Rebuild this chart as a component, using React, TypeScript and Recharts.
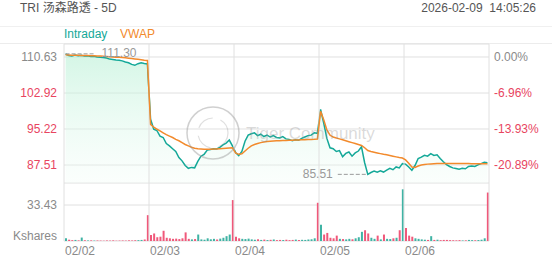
import React from "react";
import {
  ComposedChart,
  Area,
  Line,
  Bar,
  Cell,
  XAxis,
  YAxis,
  CartesianGrid,
  ReferenceLine,
  ReferenceDot,
} from "recharts";

// 5 sessions, 27 samples each (15 min steps, open -> close)
const days = ["02/02", "02/03", "02/04", "02/05", "02/06"];
const prevClose = 110.63;
const priceTicks = [110.63, 102.92, 95.22, 87.51];
const pctLabels = ["0.00%", "-6.96%", "-13.93%", "-20.89%"];
const volumeTick = 33.43;

const price0202 = [111.3, 110.95, 110.85, 111.05, 110.9, 111.0, 110.82, 110.9, 110.75, 110.8, 110.62, 110.55, 110.5, 110.4, 110.18, 110.1, 110.0, 109.92, 109.8, 109.55, 109.4, 109.05, 108.85, 109.2, 109.4, 109.25, 109.15];
const price0203 = [97.3, 95.2, 94.9, 93.7, 93.4, 92.1, 91.6, 91.0, 90.4, 89.1, 88.4, 87.4, 86.8, 87.0, 86.9, 88.3, 89.4, 89.8, 90.7, 90.85, 91.0, 90.95, 91.3, 91.8, 92.2, 92.85, 91.6];
const price0204 = [90.2, 89.5, 90.4, 92.6, 93.9, 94.2, 94.4, 93.8, 94.1, 93.6, 93.9, 93.5, 93.8, 93.4, 93.3, 93.6, 93.1, 93.0, 92.7, 92.9, 92.8, 93.2, 93.5, 93.8, 93.9, 94.4, 94.3];
const price0205 = [99.4, 96.5, 93.2, 91.2, 91.0, 90.4, 90.6, 89.3, 90.0, 90.3, 89.4, 90.1, 90.5, 91.4, 88.0, 85.51, 85.9, 86.2, 85.95, 86.25, 86.0, 86.4, 86.8, 86.5, 87.1, 86.9, 87.8];
const price0206 = [87.7, 87.1, 86.4, 87.4, 88.9, 89.2, 89.6, 89.4, 89.95, 89.55, 89.7, 88.9, 88.2, 87.6, 87.2, 86.9, 86.75, 86.6, 86.8, 86.7, 87.2, 87.3, 87.2, 87.55, 87.8, 88.1, 88.0];

const vwap0202 = [111.1, 111.05, 111.0, 111.0, 110.98, 110.97, 110.95, 110.93, 110.9, 110.88, 110.85, 110.82, 110.78, 110.74, 110.7, 110.65, 110.6, 110.55, 110.5, 110.45, 110.38, 110.3, 110.22, 110.15, 110.05, 109.95, 109.88];
const vwap0203 = [96.2, 95.6, 95.2, 94.8, 94.4, 94.0, 93.7, 93.4, 93.0, 92.7, 92.3, 91.9, 91.6, 91.3, 91.1, 91.0, 90.95, 90.9, 90.9, 90.9, 90.95, 90.95, 91.0, 91.05, 91.1, 91.15, 91.2];
const vwap0204 = [90.1, 89.8, 89.9, 90.5, 91.1, 91.6, 91.9, 92.1, 92.3, 92.45, 92.55, 92.6, 92.65, 92.7, 92.72, 92.75, 92.78, 92.8, 92.82, 92.85, 92.87, 92.9, 92.92, 92.95, 92.98, 93.0, 93.05];
const vwap0205 = [99.0, 97.2, 95.0, 93.9, 93.5, 93.3, 93.1, 92.9, 92.7, 92.5, 92.3, 92.1, 91.9, 91.7, 91.2, 90.6, 90.4, 90.25, 90.1, 89.95, 89.8, 89.7, 89.55, 89.4, 89.25, 89.1, 89.0];
const vwap0206 = [88.6, 87.9, 87.1, 87.0, 87.3, 87.5, 87.6, 87.7, 87.75, 87.8, 87.85, 87.85, 87.85, 87.85, 87.85, 87.85, 87.84, 87.83, 87.82, 87.82, 87.81, 87.8, 87.8, 87.8, 87.79, 87.79, 87.8];

// Kshares
const vol0202 = [2.5, 1.2, 0.8, 1.0, 0.6, 3.2, 0.7, 0.5, 0.6, 0.4, 0.5, 0.4, 0.3, 0.5, 0.4, 0.6, 0.3, 0.4, 0.5, 0.4, 0.6, 0.5, 0.7, 0.8, 1.0, 1.4, 24.0];
const vol0203 = [5.5, 7.0, 3.5, 4.0, 9.5, 3.0, 2.5, 2.0, 2.2, 1.8, 2.5, 8.0, 2.0, 1.5, 1.8, 6.0, 1.5, 1.2, 2.5, 1.6, 2.0, 1.4, 2.2, 3.0, 4.5, 6.0, 38.0];
const vol0204 = [4.0, 2.5, 2.0, 1.8, 2.2, 1.5, 1.2, 1.6, 1.0, 1.3, 0.9, 1.1, 1.4, 0.8, 1.0, 0.9, 1.2, 0.8, 1.0, 1.3, 0.9, 1.1, 1.0, 1.4, 1.6, 2.5, 35.5];
const vol0205 = [15.0, 6.0, 7.5, 3.0, 2.5, 5.0, 2.0, 1.8, 1.5, 2.0, 1.6, 2.5, 3.5, 8.5, 10.0, 7.0, 3.0, 2.0, 5.0, 1.5, 6.0, 2.0, 1.8, 2.5, 3.0, 10.0, 48.0];
const vol0206 = [12.0, 5.0, 4.0, 2.5, 2.0, 1.5, 1.2, 1.0, 4.5, 1.0, 1.2, 0.8, 1.0, 1.0, 0.8, 0.7, 0.6, 0.8, 0.5, 0.6, 1.0, 0.8, 0.7, 0.9, 1.2, 2.5, 45.0];

const priceByDay = [price0202, price0203, price0204, price0205, price0206];
const vwapByDay = [vwap0202, vwap0203, vwap0204, vwap0205, vwap0206];
const volByDay = [vol0202, vol0203, vol0204, vol0205, vol0206];

const SLOTS = 27;
const FONT = 'Arial, "Liberation Sans", "Noto Sans CJK SC", sans-serif';
const TEAL = "#14a898";
const ORANGE = "#f28a2c";
const RED = "#e8455f";
const GRAY = "#8a8a8a";
const GRID = "#e0e0e0";
const UP = "#3fb3a4";
const DOWN = "#f0587a";

const data = priceByDay.flatMap((prices, d) =>
  prices.map((p, i) => ({
    t: d * SLOTS + i,
    price: p,
    vwap: vwapByDay[d][i],
    vol: volByDay[d][i],
  })),
);
const barColors = data.map((row, k) => {
  const prev = k === 0 ? prevClose : data[k - 1].price;
  return row.price >= prev ? UP : DOWN;
});

const xDomain = [-0.5, SLOTS * days.length - 0.5];
const dayEdges = [...days.map((_, d) => d * SLOTS - 0.5), SLOTS * days.length - 0.5];
const priceDomain = [83.66, 113.41];
const volDomain = [0, 53.86];

let hiIdx = 0;
let loIdx = 0;
data.forEach((row, k) => {
  if (row.price > data[hiIdx].price) hiIdx = k;
  if (row.price < data[loIdx].price) loIdx = k;
});

const LeftTick = (props: any) => {
  const idx = priceTicks.indexOf(props.payload.value);
  return (
    <text x={57} y={props.y} textAnchor="end" dominantBaseline="central" fontSize={12} fill={idx === 0 ? GRAY : RED}>
      {props.payload.value.toFixed(2)}
    </text>
  );
};

const RightTick = (props: any) => {
  const idx = priceTicks.indexOf(props.payload.value);
  return (
    <text x={494} y={props.y} textAnchor="start" dominantBaseline="central" fontSize={12} fill={idx === 0 ? GRAY : RED}>
      {pctLabels[idx]}
    </text>
  );
};

const VolTick = (props: any) => (
  <text x={57} y={props.payload.value === 0 ? props.y - 5 : props.y} textAnchor="end" dominantBaseline="central" fontSize={12} fill={GRAY}>
    {props.payload.value === 0 ? "Kshares" : props.payload.value.toFixed(2)}
  </text>
);

// volume chart plot ends 58px below its top; labels sit ~10px under it
const DateTick = (props: any) => {
  const d = Math.round((props.payload.value + 0.5) / SLOTS);
  return (
    <text x={props.x + 1} y={68} textAnchor="start" dominantBaseline="central" fontSize={12} fill={GRAY}>
      {days[d]}
    </text>
  );
};

const HighMark = (p: any) => (
  <g>
    <line x1={p.cx} y1={p.cy} x2={p.cx + 30} y2={p.cy} stroke="#9a9a9a" strokeDasharray="4 2" />
    <text x={p.cx + 36} y={p.cy - 1} dominantBaseline="central" fontSize={12} fill="#999">
      {data[hiIdx].price.toFixed(2)}
    </text>
  </g>
);

const LowMark = (p: any) => (
  <g>
    <line x1={p.cx - 2} y1={p.cy} x2={p.cx - 31} y2={p.cy} stroke="#9a9a9a" strokeDasharray="4 2" />
    <text x={p.cx - 35} y={p.cy} textAnchor="end" dominantBaseline="central" fontSize={12} fill="#999">
      {data[loIdx].price.toFixed(2)}
    </text>
  </g>
);

export default function App() {
  return (
    <div style={{ position: "relative", width: 552, height: 265, fontFamily: FONT, background: "#fff", overflow: "hidden" }}>
      <style>{`body{margin:0}`}</style>
      <div style={{ position: "absolute", left: 20, top: 0, lineHeight: "16px", fontSize: 12, color: "#555" }}>
        TRI 汤森路透 - 5D
      </div>
      <div style={{ position: "absolute", right: 16, top: 0, lineHeight: "16px", fontSize: 12, color: "#555", whiteSpace: "pre" }}>
        2026-02-09  14:05:26
      </div>
      <div style={{ position: "absolute", left: 0, top: 26, width: 552, borderTop: "1px solid #f0f0f0" }} />
      <div style={{ position: "absolute", left: 0, top: 43, width: 552, borderTop: "1px solid #ececec" }} />
      <div style={{ position: "absolute", left: 64, top: 26, lineHeight: "17px", fontSize: 12, color: TEAL }}>Intraday</div>
      <div style={{ position: "absolute", left: 120, top: 26, lineHeight: "17px", fontSize: 12, color: ORANGE }}>VWAP</div>

      <div style={{ position: "absolute", left: 0, top: 0 }}>
        <ComposedChart width={552} height={183} data={data} margin={{ top: 44, right: 0, bottom: 0, left: 0 }}>
          <defs>
            <linearGradient id="fillPrice" x1="0" y1="0" x2="0" y2="1">
              <stop offset="0%" stopColor="#b8f0d5" stopOpacity={1} />
              <stop offset="100%" stopColor="#f2fdf7" stopOpacity={0.5} />
            </linearGradient>
          </defs>
          <CartesianGrid yAxisId="l" vertical={false} stroke={GRID} />
          <XAxis dataKey="t" type="number" domain={xDomain} hide allowDataOverflow />
          <YAxis yAxisId="l" domain={priceDomain} ticks={priceTicks} width={64} axisLine={false} tickLine={false} tick={LeftTick} interval={0} allowDataOverflow />
          <YAxis yAxisId="r" orientation="right" domain={priceDomain} ticks={priceTicks} width={63} axisLine={false} tickLine={false} tick={RightTick} interval={0} allowDataOverflow />
          {dayEdges.map((x) => (
            <ReferenceLine key={x} yAxisId="l" x={x} stroke={GRID} />
          ))}
          <Area yAxisId="l" type="linear" dataKey="price" stroke={TEAL} strokeWidth={1.5} fill="url(#fillPrice)" baseValue={priceDomain[0]} dot={false} activeDot={false} isAnimationActive={false} />
          <Line yAxisId="l" type="linear" dataKey="vwap" stroke={ORANGE} strokeWidth={1.5} dot={false} activeDot={false} isAnimationActive={false} />
          <ReferenceDot yAxisId="l" x={data[hiIdx].t} y={data[hiIdx].price} shape={HighMark} />
          <ReferenceDot yAxisId="l" x={data[loIdx].t} y={data[loIdx].price} shape={LowMark} />
        </ComposedChart>
      </div>

      <div style={{ position: "absolute", left: 0, top: 183 }}>
        <ComposedChart width={552} height={82} data={data} margin={{ top: 0, right: 63, bottom: 0, left: 0 }}>
          <CartesianGrid yAxisId="v" vertical={false} stroke={GRID} />
          <XAxis dataKey="t" type="number" domain={xDomain} ticks={dayEdges.slice(0, days.length)} height={24} axisLine={false} tickLine={false} tickSize={0} tick={DateTick} interval={0} allowDataOverflow />
          <YAxis yAxisId="v" domain={volDomain} ticks={[0, volumeTick]} width={64} axisLine={false} tickLine={false} tick={VolTick} interval={0} allowDataOverflow />
          {dayEdges.map((x) => (
            <ReferenceLine key={x} yAxisId="v" x={x} stroke={GRID} />
          ))}
          <Bar yAxisId="v" dataKey="vol" barSize={2} isAnimationActive={false}>
            {data.map((_, k) => (
              <Cell key={k} fill={barColors[k]} />
            ))}
          </Bar>
        </ComposedChart>
      </div>

      <svg width={552} height={265} style={{ position: "absolute", left: 0, top: 0, pointerEvents: "none" }}>
        <circle cx={213} cy={133} r={26} fill="none" stroke="rgba(150,150,150,0.45)" strokeWidth={1.5} />
        <circle cx={213} cy={133} r={15} fill="none" stroke="rgba(150,150,150,0.3)" strokeWidth={1.2} strokeDasharray="18 8" />
        <text x={246} y={139} fontSize={17} fill="rgba(150,150,150,0.35)" fontFamily={FONT}>
          Tiger Community
        </text>
      </svg>
    </div>
  );
}
